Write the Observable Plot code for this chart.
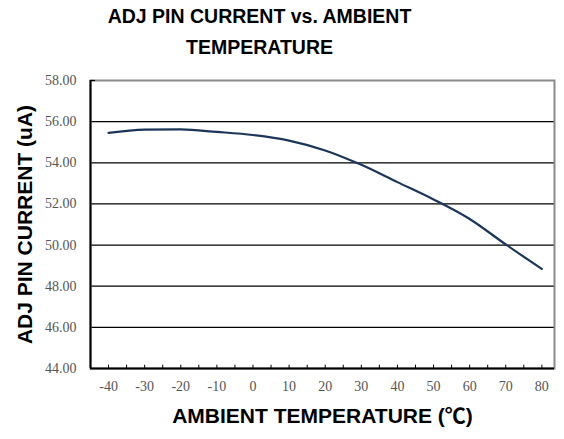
<!DOCTYPE html>
<html>
<head>
<meta charset="utf-8">
<script src="https://cdn.jsdelivr.net/npm/d3@7"></script>
<script src="https://cdn.jsdelivr.net/npm/@observablehq/plot@0.6"></script>
<style>
  html, body { margin: 0; padding: 0; background: #fff; }
  #wrap { position: relative; width: 564px; height: 439px; overflow: hidden; }
  #title { position: absolute; left: 0; top: 0; width: 519px; text-align: center;
    font-family: "Liberation Sans", Arial, sans-serif; font-weight: bold; font-size: 19.5px;
    line-height: 30.5px; padding-top: 1px; color: #000; z-index: 2; }
  #chart { position: absolute; left: 0; top: 0; }
  #chart svg text { font-family: "Liberation Serif", "Times New Roman", serif; }
  #chart svg .ttl text { font-family: "Liberation Sans", Arial, "Noto Sans CJK TC", sans-serif; }
</style>
</head>
<body>
<div id="wrap">
  <div id="title">ADJ PIN CURRENT vs. AMBIENT<br>TEMPERATURE</div>
  <div id="chart"></div>
</div>
<script>
const temperatures = [-40, -30, -20, -10, 0, 10, 20, 30, 40, 50, 60, 70, 80];
const currents = [55.45, 55.61, 55.62, 55.50, 55.35, 55.08, 54.60, 53.90, 53.06, 52.22, 51.27, 50.03, 48.84];
const yTicks = [44, 46, 48, 50, 52, 54, 56, 58];
const xTicks = [-40, -30, -20, -10, 0, 10, 20, 30, 40, 50, 60, 70, 80];
const xMinorTicks = d3.range(-40, 81, 5);
const gridValues = [46, 48, 50, 52, 54, 56];
const xTitle = "AMBIENT TEMPERATURE (℃)";
const yTitle = "ADJ PIN CURRENT (uA)";

const data = temperatures.map((t, i) => ({t, v: currents[i]}));
const serif = "'Liberation Serif', 'Times New Roman', serif";
const sans = "'Liberation Sans', Arial, 'Noto Sans CJK TC', sans-serif";

const chart = Plot.plot({
  width: 564,
  height: 439,
  marginLeft: 90,
  marginRight: 10,
  marginTop: 80,
  marginBottom: 71,
  x: {domain: [-45, 83.5]},
  y: {domain: [44, 58]},
  style: {background: "#fff"},
  marks: [
    Plot.ruleY(gridValues, {stroke: "#000", strokeWidth: 1.2}),
    Plot.frame({stroke: "#8a8a8a", strokeWidth: 2}),
    Plot.ruleX(xMinorTicks, {y1: 44, y2: 44.16, stroke: "#000", strokeWidth: 1}),
    Plot.ruleY([58], {x1: -45, x2: -43.6, stroke: "#000", strokeWidth: 1.2}),
    Plot.axisY({ticks: yTicks, tickSize: 0, tickPadding: 14, tickFormat: d => d.toFixed(2),
      fontSize: 14, fontFamily: serif, fill: "#555", label: null}),
    Plot.axisX({ticks: xTicks, tickSize: 0, tickPadding: 13, tickFormat: d => String(d),
      fontSize: 14, fontFamily: serif, fill: "#555", label: null}),
    Plot.ruleX([-45], {stroke: "#000", strokeWidth: 2}),
    Plot.ruleY([44], {stroke: "#000", strokeWidth: 2}),
    Plot.line(data, {x: "t", y: "v", curve: "monotone-x", stroke: "#1b3659", strokeWidth: 2.2}),
    Plot.text([yTitle], {frameAnchor: "left", dx: -65, rotate: -90, textAnchor: "middle",
      fontSize: 21, fontWeight: "bold", fontFamily: sans, fill: "#000", className: "ttl"}),
    Plot.text([xTitle], {frameAnchor: "bottom", dy: 54, fontSize: 21, fontWeight: "bold",
      fontFamily: sans, fill: "#000", className: "ttl"})
  ]
});
document.getElementById("chart").appendChild(chart);
</script>
</body>
</html>
